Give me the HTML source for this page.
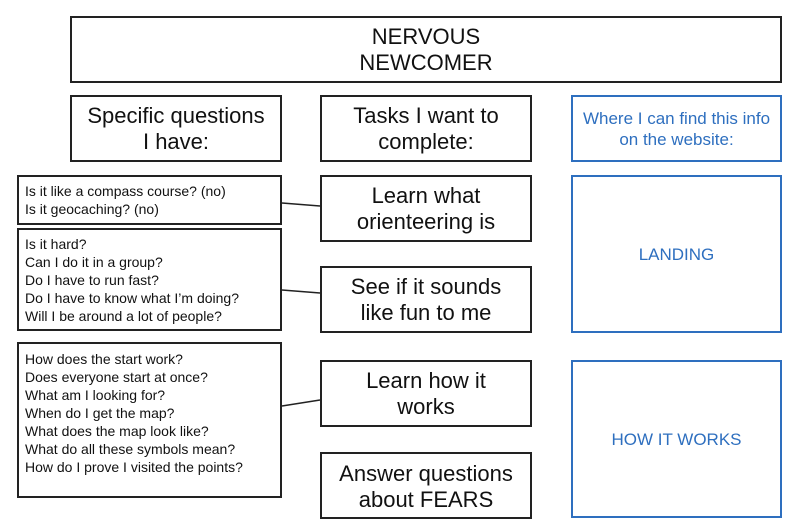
<!DOCTYPE html>
<html><head><style>
body{margin:0;width:800px;height:500px;background:#fff;position:relative;overflow:hidden;font-family:"Liberation Sans",sans-serif;color:#111}
.b{position:absolute;border:2px solid #222;box-sizing:border-box;display:flex;align-items:center;justify-content:center;text-align:center}
.big{font-size:22px;line-height:26px}
.blue{border-color:#2e6fbf;color:#2e6fbf;font-size:17px;line-height:21px}
.q{position:absolute;border:2px solid #222;box-sizing:border-box;font-size:14px;line-height:18px;padding-left:6px;display:flex;flex-direction:column;justify-content:center}
svg{position:absolute;left:0;top:0}
</style></head><body>
<div class="b big" style="left:70px;top:16px;width:712px;height:67px">NERVOUS<br>NEWCOMER</div>
<div class="b big" style="left:70px;top:95px;width:212px;height:67px">Specific questions<br>I have:</div>
<div class="b big" style="left:320px;top:95px;width:212px;height:67px">Tasks I want to<br>complete:</div>
<div class="b blue" style="left:571px;top:95px;width:211px;height:67px">Where I can find this info<br>on the website:</div>
<div class="q" style="left:17px;top:175px;width:265px;height:50px"><div>Is it like a compass course? (no)</div><div>Is it geocaching? (no)</div></div>
<div class="q" style="left:17px;top:228px;width:265px;height:103px"><div>Is it hard?</div><div>Can I do it in a group?</div><div>Do I have to run fast?</div><div>Do I have to know what I’m doing?</div><div>Will I be around a lot of people?</div></div>
<div class="q" style="left:17px;top:342px;width:265px;height:156px;justify-content:flex-start;padding-top:6px"><div>How does the start work?</div><div>Does everyone start at once?</div><div>What am I looking for?</div><div>When do I get the map?</div><div>What does the map look like?</div><div>What do all these symbols mean?</div><div>How do I prove I visited the points?</div></div>
<div class="b big" style="left:320px;top:175px;width:212px;height:67px">Learn what<br>orienteering is</div>
<div class="b big" style="left:320px;top:266px;width:212px;height:67px">See if it sounds<br>like fun to me</div>
<div class="b big" style="left:320px;top:360px;width:212px;height:67px">Learn how it<br>works</div>
<div class="b big" style="left:320px;top:452px;width:212px;height:67px;align-items:flex-start;padding-top:7px">Answer questions<br>about FEARS</div>
<div class="b blue" style="left:571px;top:175px;width:211px;height:158px">LANDING</div>
<div class="b blue" style="left:571px;top:360px;width:211px;height:158px">HOW IT WORKS</div>
<svg width="800" height="500"><g stroke="#222" stroke-width="1.5">
<line x1="282" y1="203" x2="320" y2="206"/>
<line x1="282" y1="290" x2="320" y2="293"/>
<line x1="282" y1="406" x2="320" y2="400"/>
</g></svg>
</body></html>
